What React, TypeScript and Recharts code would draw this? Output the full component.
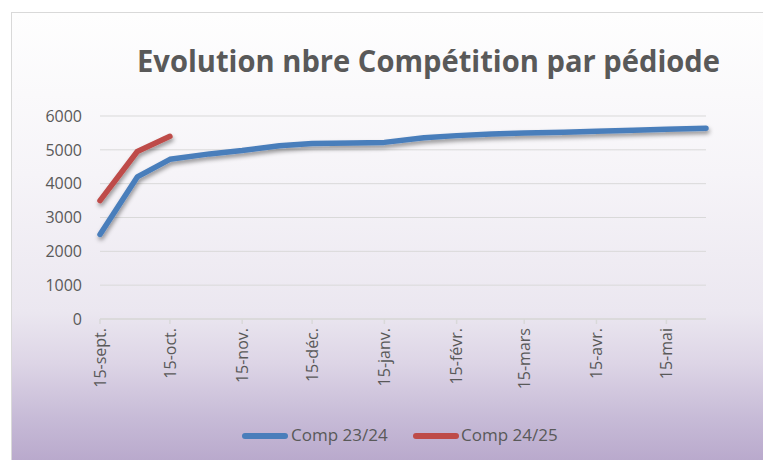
import React from 'react';
import { LineChart, Line, XAxis, YAxis, CartesianGrid, Legend } from 'recharts';

// Days elapsed since 15-sept. for each data point (1st and 15th of each month)
const dayOffsets = [0, 16, 30, 47, 61, 77, 91, 108, 122, 139, 153, 168, 182, 199, 213, 229, 243, 260];
const comp2324 = [2500, 4200, 4720, 4880, 4980, 5120, 5190, 5200, 5220, 5360, 5420, 5470, 5500, 5520, 5550, 5580, 5610, 5640];
const comp2425 = [3500, 4950, 5400];
const tickDays = [0, 30, 61, 91, 122, 153, 182, 213, 243];
const tickLabels = ['15-sept.', '15-oct.', '15-nov.', '15-déc.', '15-janv.', '15-févr.', '15-mars', '15-avr.', '15-mai'];
const yTicks = [0, 1000, 2000, 3000, 4000, 5000, 6000];
const seriesNames = ['Comp 23/24', 'Comp 24/25'];
const title = 'Evolution nbre Compétition par pédiode';

const data = dayOffsets.map((d, i) => ({
  day: d,
  a: comp2324[i],
  b: i < comp2425.length ? comp2425[i] : null,
}));

const FONT = '"Open Sans", sans-serif';
const TXT = '#595959';
const BLUE = '#4a7ebb';
const RED = '#be4b48';

const XTick = (props: any) => {
  const { x, y, payload } = props;
  const idx = tickDays.indexOf(payload.value);
  return (
    <text
      x={x}
      y={y}
      transform={`rotate(-90 ${x} ${y})`}
      textAnchor="end"
      dy="0.36em"
      fill={TXT}
      fontSize={16}
      fontFamily={FONT}
    >
      {idx >= 0 ? tickLabels[idx] : ''}
    </text>
  );
};

const LegendContent = () => (
  <div style={{ position: 'relative', width: 763, height: 22, fontFamily: FONT, fontSize: 17, color: TXT }}>
    <div style={{ position: 'absolute', left: 242, top: 8, width: 46, height: 6, borderRadius: 3, background: BLUE }} />
    <div style={{ position: 'absolute', left: 291, top: -2, whiteSpace: 'nowrap', lineHeight: '24px' }}>{seriesNames[0]}</div>
    <div style={{ position: 'absolute', left: 413, top: 8, width: 46, height: 6, borderRadius: 3, background: RED }} />
    <div style={{ position: 'absolute', left: 461, top: -2, whiteSpace: 'nowrap', lineHeight: '24px' }}>{seriesNames[1]}</div>
  </div>
);

export default function App() {
  return (
    <div style={{ position: 'absolute', left: 0, top: 0, width: 763, height: 460, overflow: 'hidden', background: '#ffffff' }}>
      <div
        style={{
          position: 'absolute',
          left: 11,
          top: 12,
          width: 800,
          height: 460,
          borderLeft: '1px solid #d9d9d9',
          borderTop: '1px solid #d9d9d9',
          background:
            'linear-gradient(to bottom, #fefefe 0%, #f6f4f8 35%, #ebe7f0 65%, #ddd5e6 76%, #c7bbd7 88%, #b5a4c9 100%)',
        }}
      />
      <svg width={763} height={100} style={{ position: 'absolute', left: 0, top: 0 }}>
        <text
          x={137}
          y={72}
          textLength={583}
          lengthAdjust="spacingAndGlyphs"
          fill={TXT}
          fontSize={31}
          fontWeight="bold"
          fontFamily={FONT}
        >
          {title}
        </text>
      </svg>
      <div style={{ position: 'absolute', left: 0, top: 0 }}>
        <LineChart width={763} height={460} data={data} margin={{ top: 116, right: 57, bottom: 41, left: 0 }}>
          <defs>
            <filter id="lineShadow" x="-10%" y="-20%" width="130%" height="160%">
              <feDropShadow dx="1" dy="3" stdDeviation="2" floodColor="#000" floodOpacity="0.4" />
            </filter>
          </defs>
          <CartesianGrid vertical={false} stroke="#d9d9d9" strokeWidth={1} />
          <XAxis
            dataKey="day"
            type="number"
            domain={[0, 260]}
            ticks={tickDays}
            height={100}
            tick={<XTick />}
            tickSize={5}
            tickMargin={4}
            interval={0}
            axisLine={{ stroke: '#d9d9d9', strokeWidth: 1.5 }}
            tickLine={{ stroke: '#d9d9d9', strokeWidth: 1.5 }}
          />
          <YAxis
            type="number"
            domain={[0, 6000]}
            ticks={yTicks}
            width={100}
            axisLine={false}
            tickLine={false}
            tickSize={0}
            tickMargin={18}
            tick={{ fill: TXT, fontSize: 16, fontFamily: FONT }}
          />
          <Legend
            verticalAlign="middle"
            align="center"
            wrapperStyle={{ left: 0, top: 425, width: 763 }}
            content={<LegendContent />}
          />
          <Line
            dataKey="a"
            name={seriesNames[0]}
            stroke={BLUE}
            strokeWidth={5.5}
            strokeLinecap="round"
            strokeLinejoin="round"
            dot={false}
            activeDot={false}
            type="linear"
            filter="url(#lineShadow)"
            isAnimationActive={false}
          />
          <Line
            dataKey="b"
            name={seriesNames[1]}
            stroke={RED}
            strokeWidth={5.5}
            strokeLinecap="round"
            strokeLinejoin="round"
            dot={false}
            activeDot={false}
            type="linear"
            filter="url(#lineShadow)"
            isAnimationActive={false}
          />
        </LineChart>
      </div>
    </div>
  );
}
